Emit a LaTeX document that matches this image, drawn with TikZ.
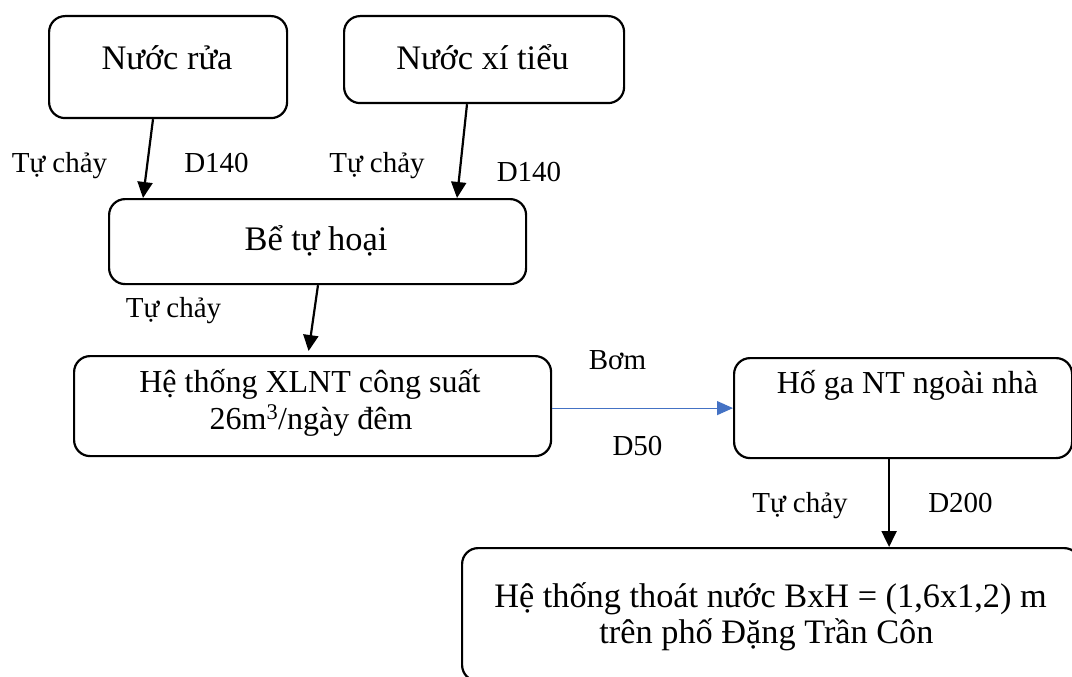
\documentclass[tikz,border=0pt]{standalone}
\usepackage{fontspec}
\setmainfont{Liberation Serif}
\usetikzlibrary{arrows.meta,calc}
\definecolor{pumpblue}{RGB}{68,114,196}
\tikzset{
  box/.style={draw=black, line width=2.2pt, rounded corners=16pt, anchor=north west, inner sep=0pt},
  boxtext/.style={anchor=base, inner sep=0pt, font=\fontsize{34.4}{39}\selectfont},
  lbl/.style={anchor=base, inner sep=0pt, font=\fontsize{29}{34}\selectfont},
  flow/.style={draw=black, line width=2.2pt, -{Triangle[length=16pt,width=15pt]}},
  pump/.style={draw=pumpblue, line width=1.2pt, -{Triangle[length=16pt,width=14pt]}}
}
\begin{document}
\begin{tikzpicture}[x=1pt,y=-1pt]
\useasboundingbox (0,0) rectangle (1072,677);
\clip (0,0) rectangle (1072,677);
% boxes
\node[box, minimum width=238pt, minimum height=102pt] (A) at (48,15) {};
\node[box, minimum width=280pt, minimum height=87pt] (B) at (343,15) {};
\node[box, minimum width=417pt, minimum height=85pt] (C) at (108,198) {};
\node[box, minimum width=477pt, minimum height=100pt] (D) at (73,355) {};
\node[box, minimum width=338pt, minimum height=100pt] (E) at (733,357) {};
\node[box, minimum width=618pt, minimum height=133pt] (F) at (461,547) {};
% box texts
\node[boxtext] (tA) at (167,70) {Nước rửa};
\node[boxtext] (tB) at (482.5,70) {Nước xí tiểu};
\node[boxtext] (tC) at (316,250) {Bể tự hoại};
\node[boxtext, font=\fontsize{32}{37}\selectfont] (tD1) at (310,392) {Hệ thống XLNT công suất};
\node[boxtext, font=\fontsize{32}{37}\selectfont] (tD2) at (311,429) {26m\textsuperscript{3}/ngày đêm};
\node[boxtext, font=\fontsize{32}{37}\selectfont] (tE) at (907.5,393) {Hố ga NT ngoài nhà};
\node[boxtext, font=\fontsize{34.3}{39}\selectfont] (tF1) at (770.5,607) {Hệ thống thoát nước BxH = (1,6x1,2) m};
\node[boxtext, font=\fontsize{34.3}{39}\selectfont] (tF2) at (766.5,643) {trên phố Đặng Trần Côn};
% labels
\node[lbl] (l1) at (59.5,172) {Tự chảy};
\node[lbl] (l2) at (216.5,172) {D140};
\node[lbl] (l3) at (377,172) {Tự chảy};
\node[lbl] (l4) at (529,181) {D140};
\node[lbl] (l5) at (173.5,317) {Tự chảy};
\node[lbl] (l6) at (617.5,369) {Bơm};
\node[lbl] (l7) at (637.5,455) {D50};
\node[lbl] (l8) at (800,512) {Tự chảy};
\node[lbl] (l9) at (960.5,512) {D200};
% connectors
\coordinate (a1) at ($(A.south west)+(105,0)$);
\coordinate (a2) at ($(C.north west)+(35,0)$);
\coordinate (b1) at ($(B.south west)+(124,0)$);
\coordinate (b2) at ($(C.north west)+(349,0)$);
\coordinate (c1) at ($(C.south west)+(210,0)$);
\coordinate (c2) at ($(D.north west)+(235,0)$);
\coordinate (e1) at ($(E.south)+(-14,0)$);
\draw[flow] (a1) -- (a2);
\draw[flow] (b1) -- (b2);
\draw[flow, shorten >=4pt] (c1) -- (c2);
\draw[pump] (D.east |- E.west) -- (E.west);
\draw[flow] (e1) -- (e1 |- F.north);
\end{tikzpicture}
\end{document}
